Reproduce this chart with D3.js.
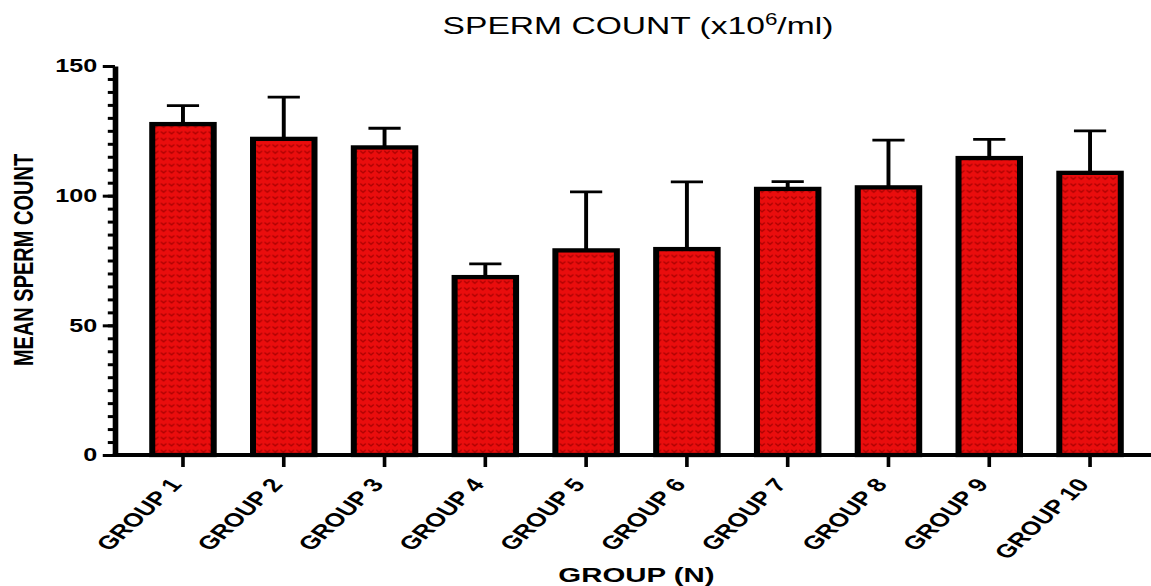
<!DOCTYPE html>
<html>
<head>
<meta charset="utf-8">
<script src="https://cdn.jsdelivr.net/npm/d3@7"></script>
<style>
  body { margin: 0; background: #fff; }
  svg { display: block; font-family: "Liberation Sans", Arial, sans-serif; }
</style>
</head>
<body>
<div id="chart"></div>
<script>
// data
const groups = ['GROUP 1', 'GROUP 2', 'GROUP 3', 'GROUP 4', 'GROUP 5',
                'GROUP 6', 'GROUP 7', 'GROUP 8', 'GROUP 9', 'GROUP 10'];
const means = [127.6, 121.9, 118.6, 68.6, 78.9, 79.4, 102.6, 103.2, 114.5, 108.8];
const errors = [7.1, 16.1, 7.4, 5.1, 22.6, 25.9, 2.8, 18.2, 7.2, 16.2];
const majorTicks = [0, 50, 100, 150];

// the source picture is stretched sideways, so draw in a narrower
// coordinate space and let the viewBox widen it
const stretch = 1.4,
  pxWidth = 1151, pxHeight = 586,
  width = pxWidth / stretch, height = pxHeight;

const axisX = 82, axisRight = width, baseY = 455, topY = 66;

const data = groups.map((g, i) => ({group: g, mean: means[i], err: errors[i]}));

const svg = d3.select('#chart')
  .append('svg')
  .attr('width', pxWidth)
  .attr('height', pxHeight)
  .attr('viewBox', '0 0 ' + width + ' ' + height)
  .attr('preserveAspectRatio', 'none');

// red fill with small dark chevrons
const pat = svg.append('defs')
  .append('pattern')
  .attr('id', 'chev')
  .attr('patternUnits', 'userSpaceOnUse')
  .attr('width', 5.7)
  .attr('height', 6.5);
pat.append('rect')
  .attr('width', 5.7).attr('height', 6.5)
  .attr('fill', '#ea0d0d');
pat.append('path')
  .attr('d', 'M0.9,1.6 L2.85,3.9 L4.8,1.6')
  .attr('fill', 'none')
  .attr('stroke', '#a80000')
  .attr('stroke-width', 1.1);

const x = d3.scaleBand()
  .domain(groups)
  .range([94.7, 814.6])
  .paddingInner(0.39)
  .paddingOuter(0.195);

const y = d3.scaleLinear()
  .domain([0, 150])
  .range([baseY, topY]);

// error bars (upper only)
const eb = svg.append('g').attr('class', 'errors')
  .attr('stroke', '#000')
  .attr('stroke-width', 2.8);

eb.selectAll('.stem')
  .data(data)
  .enter().append('line')
  .attr('x1', (d) => x(d.group) + x.bandwidth() / 2)
  .attr('x2', (d) => x(d.group) + x.bandwidth() / 2)
  .attr('y1', (d) => y(d.mean))
  .attr('y2', (d) => y(d.mean + d.err));

eb.selectAll('.cap')
  .data(data)
  .enter().append('line')
  .attr('x1', (d) => x(d.group) + x.bandwidth() / 2 - 11.5)
  .attr('x2', (d) => x(d.group) + x.bandwidth() / 2 + 11.5)
  .attr('y1', (d) => y(d.mean + d.err))
  .attr('y2', (d) => y(d.mean + d.err));

svg.selectAll('.bar')
  .data(data)
  .enter().append('rect')
  .attr('class', 'bar')
  .attr('x', (d) => x(d.group))
  .attr('y', (d) => y(d.mean))
  .attr('width', x.bandwidth())
  .attr('height', (d) => baseY - y(d.mean))
  .attr('fill', 'url(#chev)')
  .attr('stroke', '#000')
  .attr('stroke-width', 4.3);

// y axis: minor ticks every 5, major every 50
const minor = svg.append('g')
  .attr('transform', 'translate(' + axisX + ',0)')
  .call(d3.axisLeft(y).tickValues(d3.range(0, 151, 5)).tickSize(5).tickSizeOuter(0).tickFormat(''));
minor.select('.domain').remove();
minor.selectAll('line').attr('stroke-width', 3);

const yAxis = svg.append('g')
  .attr('transform', 'translate(' + axisX + ',0)')
  .call(d3.axisLeft(y).tickValues(majorTicks).tickSize(8.6).tickSizeOuter(0).tickPadding(4));
yAxis.select('.domain').attr('stroke-width', 4);
yAxis.selectAll('line').attr('stroke-width', 3);
yAxis.selectAll('text')
  .attr('font-size', 18)
  .attr('font-weight', 'bold')
  .attr('font-family', '"Liberation Sans", Arial, sans-serif')
  .attr('fill', '#000');

// x axis
const xAxis = svg.append('g')
  .attr('transform', 'translate(0,' + baseY + ')');
xAxis.append('line')
  .attr('x1', axisX - 1.4)
  .attr('x2', axisRight)
  .attr('stroke', '#000')
  .attr('stroke-width', 4);
xAxis.call(d3.axisBottom(x).tickSize(12).tickSizeOuter(0));
xAxis.select('.domain').remove();
xAxis.selectAll('.tick line').attr('stroke-width', 2.6);
xAxis.selectAll('.tick text')
  .attr('font-size', 19)
  .attr('font-weight', 'bold')
  .attr('font-family', '"Liberation Sans", Arial, sans-serif')
  .attr('fill', '#000')
  .attr('text-anchor', 'end')
  .attr('dy', null)
  .attr('y', null)
  .attr('transform', 'translate(0,30) rotate(-52)');

// titles
svg.append('text')
  .attr('transform', 'translate(23.6,260) rotate(-90)')
  .attr('text-anchor', 'middle')
  .attr('font-size', 20)
  .attr('font-weight', 'bold')
  .text('MEAN SPERM COUNT');

svg.append('text')
  .attr('x', 454.6)
  .attr('y', 582)
  .attr('text-anchor', 'middle')
  .attr('font-size', 21)
  .attr('font-weight', 'bold')
  .text('GROUP (N)');

const title = svg.append('text')
  .attr('x', 455.7)
  .attr('y', 34)
  .attr('text-anchor', 'middle')
  .attr('font-size', 24);
title.append('tspan').text('SPERM COUNT (x10');
title.append('tspan').attr('font-size', 16).attr('dy', -9).text('6');
title.append('tspan').attr('dy', 9).text('/ml)');
</script>
</body>
</html>
